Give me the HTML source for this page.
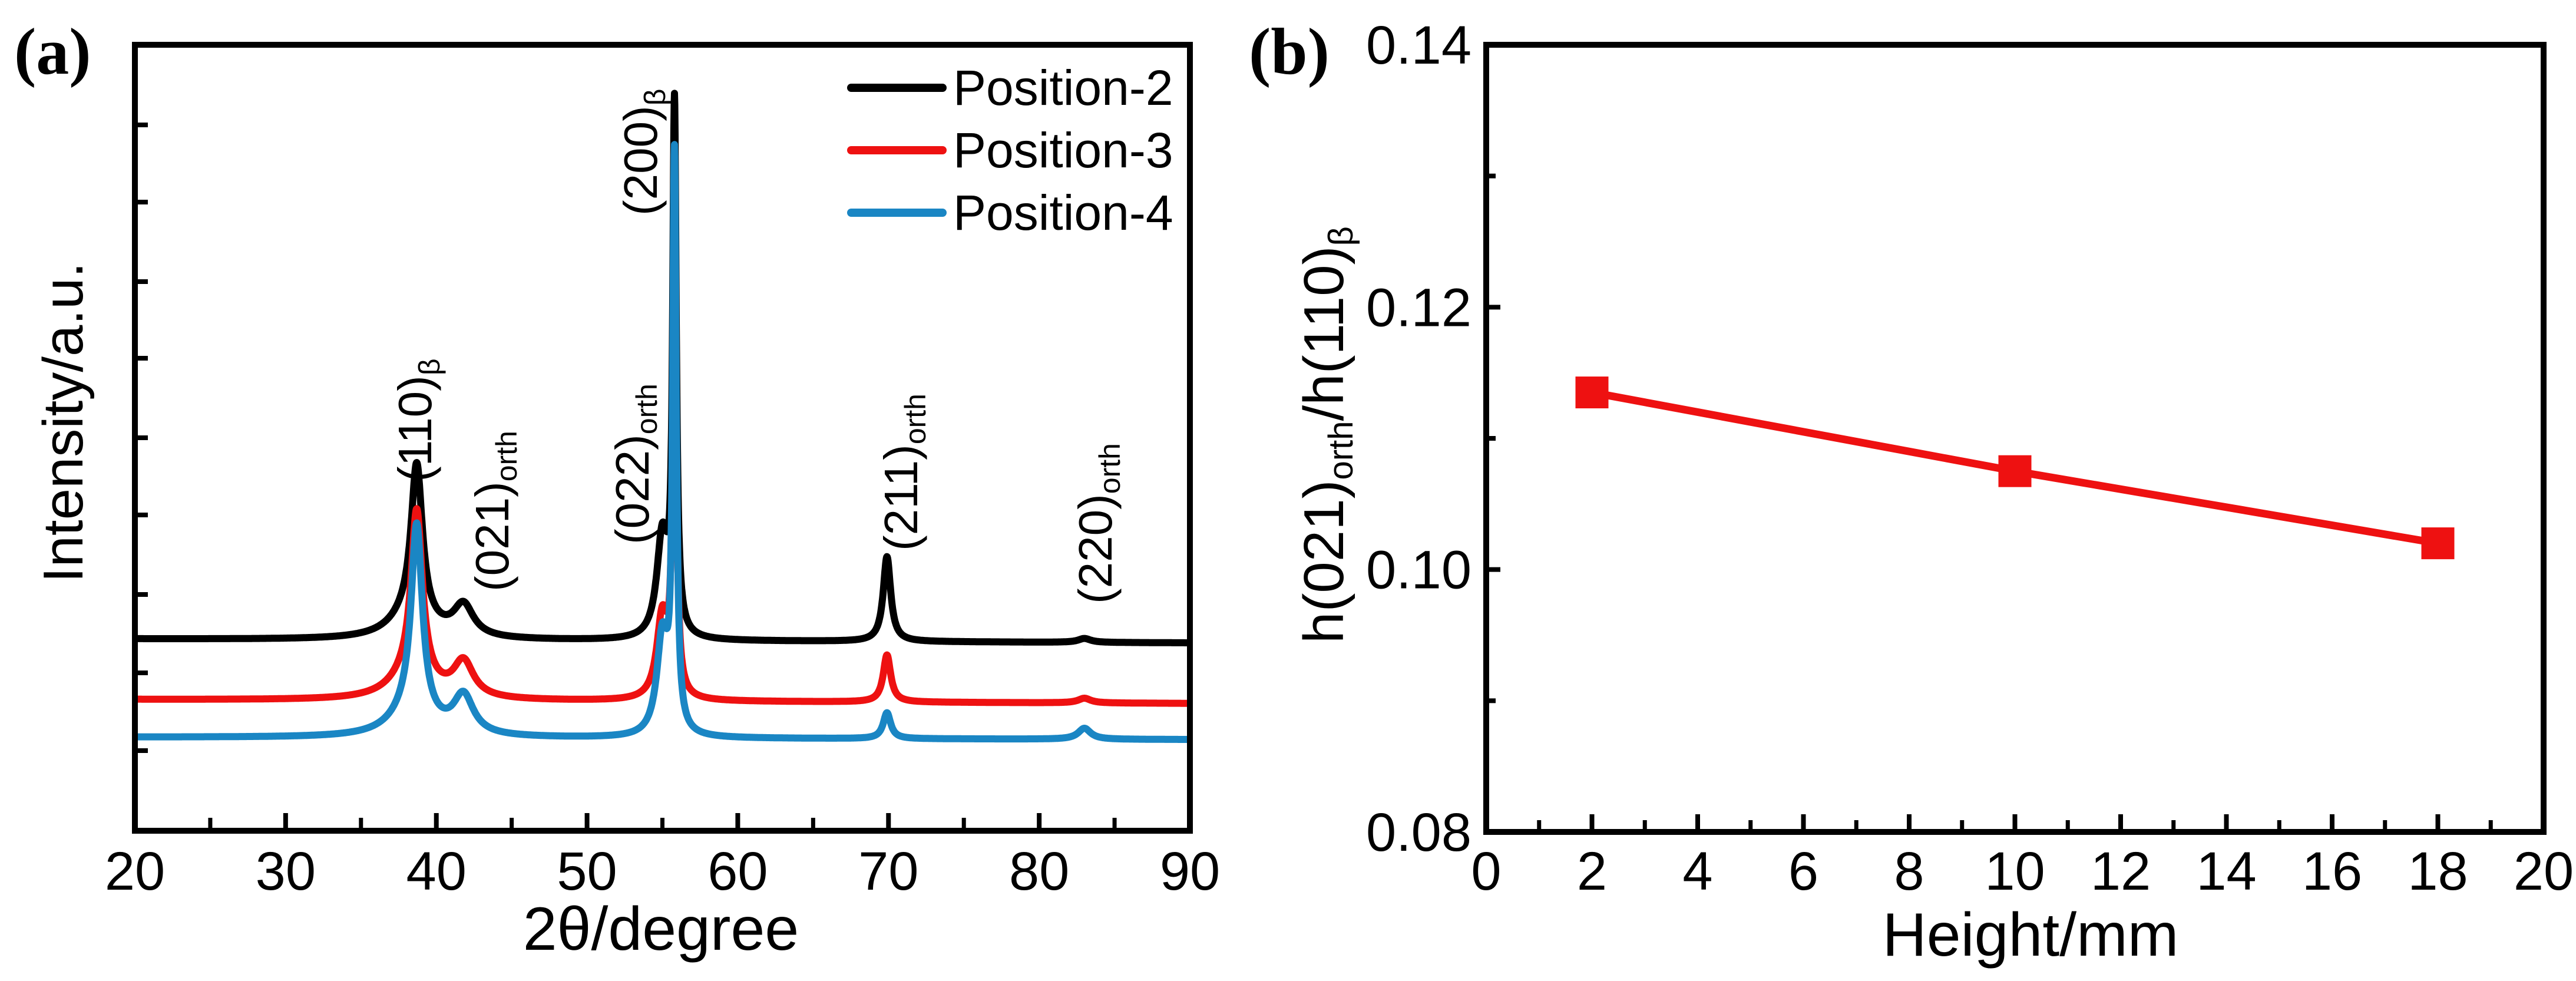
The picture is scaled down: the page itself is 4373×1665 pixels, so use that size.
<!DOCTYPE html>
<html><head><meta charset="utf-8"><style>
html,body{margin:0;padding:0;background:#fff;}
svg{display:block;}
text{font-family:"Liberation Sans",sans-serif;}
.n{font-family:"Liberation Sans Narrow","Liberation Sans",sans-serif;}
</style></head><body>
<svg id="fig" width="4373" height="1665" viewBox="0 0 4373 1665" xmlns="http://www.w3.org/2000/svg">
<g id="pa"></g>
<g id="pb"></g>
</svg>
<script>
// ---------- Panel (a) data ----------
const xrdSeriesNames = ["Position-2","Position-3","Position-4"];
const xrdColors = ["#000000","#ee1111","#1a86c4"];
const xrdBaseStart = [24.4, 16.7, 11.9];
const xrdBaseEnd = [23.9, 16.2, 11.6];
const peakCenters = [38.7, 41.8, 55.0, 55.8, 69.9, 83.0];
const peakWidths = [0.45, 0.8, 0.45, 0.14, 0.3, 0.5];
const peakHeightsP2 = [19.5, 4.0, 13.0, 66.5, 10.8, 0.5];
const peakHeightsP3 = [21.3, 4.5, 10.5, 56.0, 6.0, 0.6];
const peakHeightsP4 = [24.2, 4.9, 12.5, 72.5, 3.3, 1.4];
const humpHeights = [3.0, 3.0, 3.0];
const xrdXTicks = [20,30,40,50,60,70,80,90];
// ---------- Panel (b) data ----------
const heights = [2, 10, 18];
const ratios = [0.1135, 0.1075, 0.102];
const bXTicks = [0,2,4,6,8,10,12,14,16,18,20];
const bYTicks = [0.08,0.10,0.12,0.14];

const NS="http://www.w3.org/2000/svg";
function mk(parent,tag,attrs,txt){const e=document.createElementNS(NS,tag);for(const k in attrs)e.setAttribute(k,attrs[k]);if(txt!==undefined)e.textContent=txt;parent.appendChild(e);return e;}

// ===== Panel a =====
const pa=document.getElementById('pa');
const aL=229,aR=2020,aT=76,aB=1410;
const ax=v=>aL+(v-20)/70*(aR-aL);
const ay=v=>aB-v*(aB-aT)/100;
const heightsAll=[peakHeightsP2,peakHeightsP3,peakHeightsP4];
for(let s=0;s<3;s++){
  let d="";
  for(let x=20;x<=90.0001;x+=0.02){
    let y=xrdBaseStart[s]+(xrdBaseEnd[s]-xrdBaseStart[s])*(x-20)/70;
    for(let p=0;p<peakCenters.length;p++){const u=(x-peakCenters[p])/peakWidths[p];y+=heightsAll[s][p]/(1+u*u);}
    const u2=(x-38.3)/1.6; y+=humpHeights[s]/(1+u2*u2);
    d+=(d?"L":"M")+ax(x).toFixed(1)+" "+ay(y).toFixed(1);
  }
  const path=mk(pa,'path',{d:d,fill:'none',stroke:xrdColors[s],'stroke-width':12,'stroke-linejoin':'round'});
  
  
}
const fa=mk(pa,'rect',{x:aL,y:aT,width:aR-aL,height:aB-aT,fill:'none',stroke:'#000','stroke-width':10});


for(let v=20;v<=90;v+=5){
  const major=v%10===0;
  mk(pa,'line',{x1:ax(v),x2:ax(v),y1:aB,y2:aB-(major?30:22),stroke:'#000','stroke-width':major?8:7});
}
xrdXTicks.forEach(v=>{
  const t=mk(pa,'text',{x:ax(v),y:1510,'text-anchor':'middle','font-size':92,class:'n'},String(v));
  
  
});
[212,343,478,608,743,874,1009,1142,1274].forEach(y=>{
  mk(pa,'line',{x1:aL,x2:aL+22,y1:y,y2:y,stroke:'#000','stroke-width':8});
});
let t=mk(pa,'text',{x:1122,y:1612,'text-anchor':'middle','font-size':104,class:'n'},'2θ/degree');

t=mk(pa,'text',{x:0,y:0,'text-anchor':'middle','font-size':96,transform:'translate(140,717) rotate(-90)'},'Intensity/a.u.');

t=mk(pa,'text',{x:24,y:125,'font-size':112,'font-weight':'bold',style:'font-family:"Liberation Serif",serif'},'(a)');

const legY=[149,255,361];
for(let s=0;s<3;s++){
  const g=mk(pa,'g',{});
  
  
  mk(g,'line',{x1:1445,x2:1600,y1:legY[s],y2:legY[s],stroke:xrdColors[s],'stroke-width':14,'stroke-linecap':'round'});
  mk(g,'text',{x:1618,y:legY[s]+29,'font-size':84,class:'n'},xrdSeriesNames[s]);
}
const peakLabels=[["(110)","β",704,818],["(021)","orth",835,1004],["(022)","orth",1073,924],["(200)","β",1087,366],["(211)","orth",1529,935],["(220)","orth",1859,1025]];
peakLabels.forEach(p=>{
  const tx=mk(pa,'text',{x:0,y:0,'font-size':80,transform:`translate(${p[2]+28},${p[3]}) rotate(-90)`});
  
  
  mk(tx,'tspan',{},p[0]);
  mk(tx,'tspan',{'font-size':50,dy:14},p[1]);
});

// ===== Panel b =====
const pb=document.getElementById('pb');
const bL=2523,bR=4318,bT=76,bB=1412;
const bx=v=>bL+v/20*(bR-bL);
const by=v=>bB-(v-0.08)/0.06*(bB-bT);
for(let v=1;v<20;v++){
  const major=v%2===0;
  mk(pb,'line',{x1:bx(v),x2:bx(v),y1:bB,y2:bB-(major?30:20),stroke:'#000','stroke-width':major?8:7});
}
[0.09,0.10,0.11,0.12,0.13].forEach(v=>{
  const major=Math.abs(v*100-Math.round(v*50)*2)<1e-6;
  mk(pb,'line',{x1:bL,x2:bL+(major?24:16),y1:by(v),y2:by(v),stroke:'#000','stroke-width':8});
});
let dl="";
heights.forEach((h,i)=>{dl+=(i?"L":"M")+bx(h)+" "+by(ratios[i]);});
t=mk(pb,'path',{d:dl,fill:'none',stroke:'#ee1111','stroke-width':13});

heights.forEach((h,i)=>{
  const r=mk(pb,'rect',{x:bx(h)-28,y:by(ratios[i])-27,width:56,height:54,fill:'#ee1111'});
  
  
});
t=mk(pb,'rect',{x:bL,y:bT,width:bR-bL,height:bB-bT,fill:'none',stroke:'#000','stroke-width':10});

bXTicks.forEach(v=>{
  const tx=mk(pb,'text',{x:bx(v),y:1510,'text-anchor':'middle','font-size':92,class:'n'},String(v));
  
  
});
bYTicks.forEach(v=>{
  const tx=mk(pb,'text',{x:2498,y:by(v)+32,'text-anchor':'end','font-size':92,class:'n'},v.toFixed(2));
  
  
});
t=mk(pb,'text',{x:3447,y:1622,'text-anchor':'middle','font-size':104,class:'n'},'Height/mm');

t=mk(pb,'text',{x:0,y:0,'text-anchor':'middle','font-size':96,transform:'translate(2280,738) rotate(-90)'});

mk(t,'tspan',{},'h(021)');mk(t,'tspan',{'font-size':58,dy:16},'orth');
mk(t,'tspan',{dy:-16},'/h(110)');mk(t,'tspan',{'font-size':58,dy:16},'β');
t=mk(pb,'text',{x:2120,y:125,'font-size':112,'font-weight':'bold',style:'font-family:"Liberation Serif",serif'},'(b)');

</script>
</body></html>
